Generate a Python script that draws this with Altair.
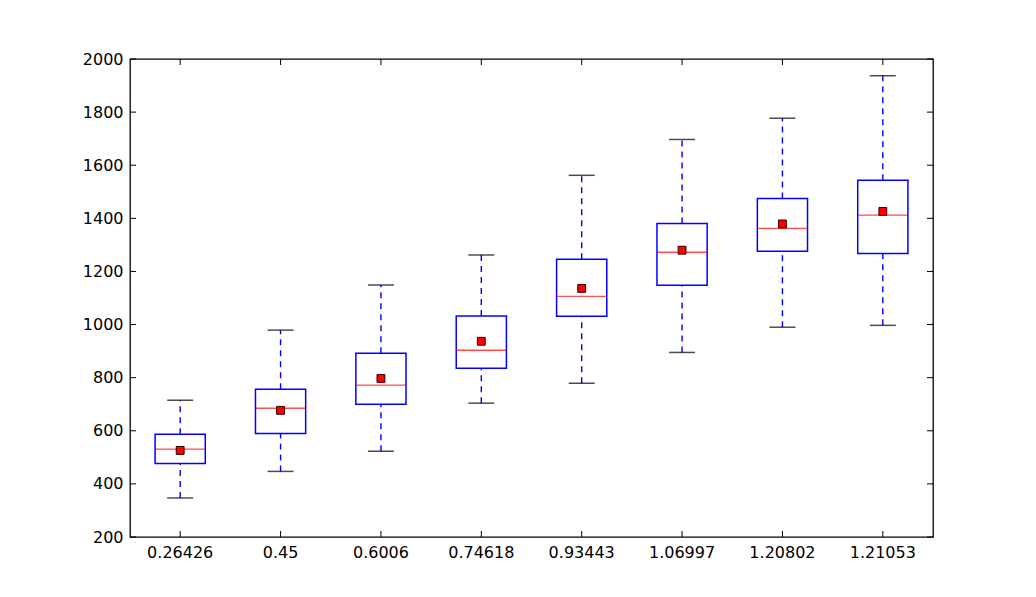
import altair as alt
import pandas as pd

categories = ["0.26426", "0.45", "0.6006", "0.74618", "0.93443", "1.06997", "1.20802", "1.21053"]
lower_cap = [347, 447, 523, 704, 779, 895, 990, 997]
q1 = [477, 590, 700, 835, 1031, 1148, 1276, 1268]
median = [531, 685, 772, 903, 1106, 1272, 1362, 1412]
mean = [526, 677, 797, 937, 1136, 1280, 1379, 1426]
q3 = [587, 756, 892, 1032, 1246, 1381, 1475, 1543]
upper_cap = [715, 979, 1149, 1262, 1562, 1697, 1777, 1937]
y_ticks = [200, 400, 600, 800, 1000, 1200, 1400, 1600, 1800, 2000]

W, H = 803, 478
FONT = "DejaVu Sans"

df = pd.DataFrame({
    "cat": categories, "lo": lower_cap, "q1": q1, "med": median,
    "mean": mean, "q3": q3, "hi": upper_cap,
})
tick_df = pd.DataFrame({"v": y_ticks})
cat_df = pd.DataFrame({"cat": categories})

xscale = alt.Scale(domain=categories, paddingInner=0.5, paddingOuter=0.25)
yscale = alt.Scale(domain=[200, 2000], nice=False, zero=False)

x_enc = alt.X("cat:N", scale=xscale, sort=categories,
              axis=alt.Axis(title=None, labelAngle=0, ticks=False, domain=False,
                            labelPadding=7, labelFont=FONT, labelFontSize=16,
                            labelColor="black", grid=False))
y_axis = alt.Axis(title=None, values=y_ticks, ticks=False, domain=False,
                  labelPadding=7, labelFont=FONT, labelFontSize=16,
                  labelColor="black", grid=False, format="d")

base = alt.Chart(df)

whisk_up = base.mark_rule(color="#0000ff", strokeWidth=1.4, strokeDash=[6, 5]).encode(
    x=x_enc, y=alt.Y("q3:Q", scale=yscale, axis=y_axis), y2="hi:Q")
whisk_lo = base.mark_rule(color="#0000ff", strokeWidth=1.4, strokeDash=[6, 5]).encode(
    x=x_enc, y=alt.Y("lo:Q", scale=yscale), y2="q1:Q")
box = base.mark_bar(fill="white", stroke="#0000ff", strokeWidth=1.5).encode(
    x=x_enc, y=alt.Y("q1:Q", scale=yscale), y2="q3:Q")
med = base.mark_tick(color="#ff0000", size=50, thickness=1.4).encode(
    x=x_enc, y=alt.Y("med:Q", scale=yscale))
cap_hi = base.mark_tick(color="black", size=26, thickness=1.5).encode(
    x=x_enc, y=alt.Y("hi:Q", scale=yscale))
cap_lo = base.mark_tick(color="black", size=26, thickness=1.5).encode(
    x=x_enc, y=alt.Y("lo:Q", scale=yscale))
mean_pt = base.mark_square(fill="#ff0000", stroke="#330000", strokeWidth=1,
                           opacity=1, size=62).encode(
    x=x_enc, y=alt.Y("mean:Q", scale=yscale))

TL = 6
yt_left = alt.Chart(tick_df).mark_rule(color="black", strokeWidth=1).encode(
    y=alt.Y("v:Q", scale=yscale), x=alt.value(0), x2=alt.value(TL))
yt_right = alt.Chart(tick_df).mark_rule(color="black", strokeWidth=1).encode(
    y=alt.Y("v:Q", scale=yscale), x=alt.value(W - TL), x2=alt.value(W))
xt_top = alt.Chart(cat_df).mark_rule(color="black", strokeWidth=1).encode(
    x=x_enc, y=alt.value(0), y2=alt.value(TL))
xt_bot = alt.Chart(cat_df).mark_rule(color="black", strokeWidth=1).encode(
    x=x_enc, y=alt.value(H - TL), y2=alt.value(H))

chart = alt.layer(
    whisk_up, whisk_lo, box, med, cap_hi, cap_lo, mean_pt,
    yt_left, yt_right, xt_top, xt_bot
).properties(
    width=W, height=H,
    autosize=alt.AutoSizeParams(type="none"),
    padding={"left": 122, "top": 51, "right": 95, "bottom": 52},
    background="white",
).configure_view(
    stroke="black", strokeWidth=1.3
)

chart.save("out.html", embed_options={"renderer": "svg", "actions": False})
